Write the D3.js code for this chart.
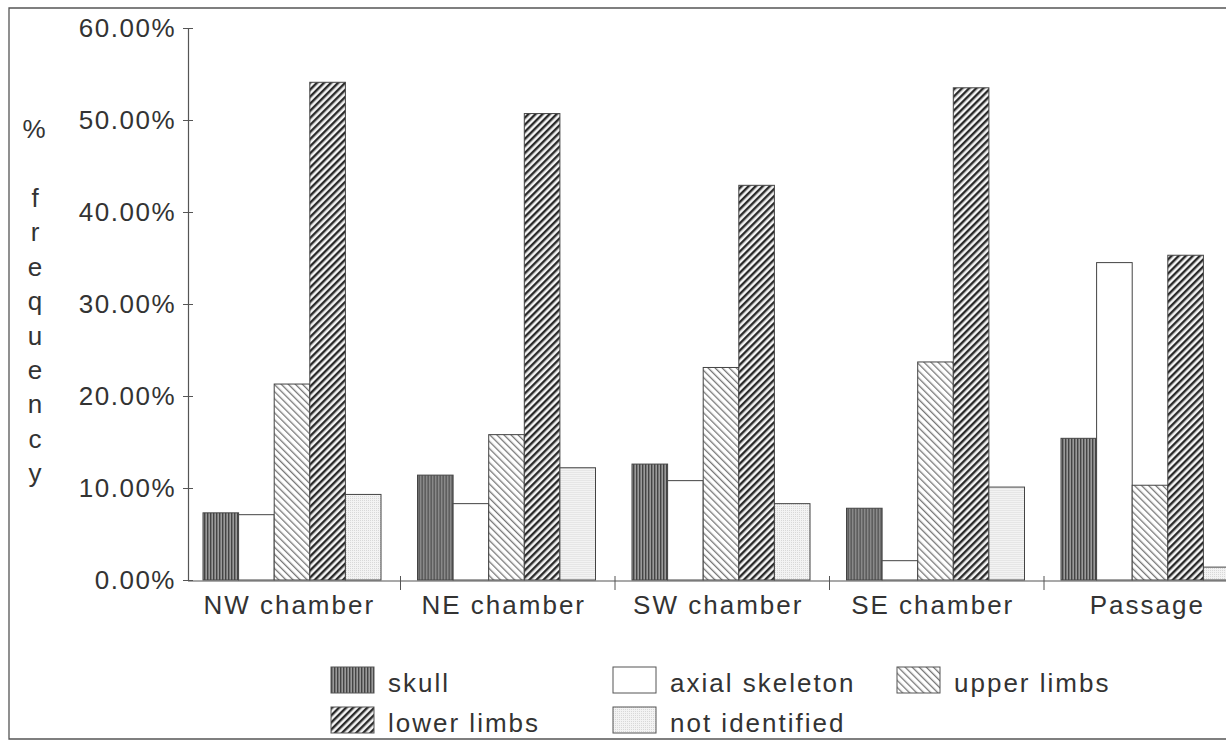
<!doctype html>
<html>
<head>
  <style>
    body { margin: 0; background: #fff; }
    svg { display: block; font-family: "Liberation Sans", Arial, sans-serif; }
    text { fill: #333; }
  </style>
  <script src="https://cdn.jsdelivr.net/npm/d3@7"></script>
</head>
<body>
<script>
  // categories and series
  var categories = ["NW chamber", "NE chamber", "SW chamber", "SE chamber", "Passage"];
  var series = ["skull", "axial skeleton", "upper limbs", "lower limbs", "not identified"];

  // values in %, one array per series
  var skull = [7.3, 11.4, 12.6, 7.8, 15.4];
  var axial = [7.1, 8.3, 10.8, 2.1, 34.5];
  var upperLimbs = [21.3, 15.8, 23.1, 23.7, 10.3];
  var lowerLimbs = [54.1, 50.7, 42.9, 53.5, 35.3];
  var notIdentified = [9.3, 12.2, 8.3, 10.1, 1.4];
  var yTicks = [0, 10, 20, 30, 40, 50, 60];

  var values = [skull, axial, upperLimbs, lowerLimbs, notIdentified];
  var fills = ["url(#pSkull)", "#fff", "url(#pUpper)", "url(#pLower)", "url(#pNotId)"];

  var W = 1226, H = 742;
  var svg = d3.select("body").append("svg").attr("width", W).attr("height", H);

  // patterns roughly like the printed hatches
  var defs = svg.append("defs");
  var p = defs.append("pattern").attr("id", "pSkull").attr("patternUnits", "userSpaceOnUse")
    .attr("width", 3).attr("height", 3);
  p.append("rect").attr("width", 3).attr("height", 3).attr("fill", "#9a9a9a");
  p.append("rect").attr("width", 1.4).attr("height", 3).attr("fill", "#444");

  p = defs.append("pattern").attr("id", "pUpper").attr("patternUnits", "userSpaceOnUse")
    .attr("width", 5).attr("height", 5).attr("patternTransform", "rotate(-45)");
  p.append("rect").attr("width", 5).attr("height", 5).attr("fill", "#fff");
  p.append("rect").attr("width", 1.3).attr("height", 5).attr("fill", "#777");

  p = defs.append("pattern").attr("id", "pLower").attr("patternUnits", "userSpaceOnUse")
    .attr("width", 5).attr("height", 5).attr("patternTransform", "rotate(45)");
  p.append("rect").attr("width", 5).attr("height", 5).attr("fill", "#f4f4f4");
  p.append("rect").attr("width", 2.4).attr("height", 5).attr("fill", "#2a2a2a");

  p = defs.append("pattern").attr("id", "pNotId").attr("patternUnits", "userSpaceOnUse")
    .attr("width", 2).attr("height", 2);
  p.append("rect").attr("width", 2).attr("height", 2).attr("fill", "#f3f3f3");
  p.append("rect").attr("width", 1).attr("height", 1).attr("fill", "#d8d8d8");

  // outer frame (right side is cut off in the scan)
  svg.append("path").attr("d", "M1226,8H9V739H1226")
    .attr("fill", "none").attr("stroke", "#555").attr("stroke-width", 1.3);

  var x0 = d3.scaleBand().domain(categories).range([186, 186 + 5 * 214.5]);
  var x1 = d3.scaleBand().domain(series).range([17, 17 + 178]);
  var y = d3.scaleLinear().domain([0, 60]).range([580, 28]);

  // bars
  var groups = svg.selectAll("g.grp").data(categories).enter().append("g")
    .attr("class", "grp")
    .attr("transform", function(d) { return "translate(" + x0(d) + ",0)"; });

  groups.selectAll("rect").data(function(c, ci) {
      return series.map(function(s, si) { return { s: s, si: si, v: values[si][ci] }; });
    })
    .enter().append("rect")
    .attr("x", function(d) { return x1(d.s); })
    .attr("y", function(d) { return y(d.v); })
    .attr("width", x1.bandwidth())
    .attr("height", function(d) { return y(0) - y(d.v); })
    .attr("fill", function(d) { return fills[d.si]; })
    .attr("stroke", "#444").attr("stroke-width", 1);

  // y axis
  var yAxis = svg.append("g").attr("transform", "translate(188,0)")
    .call(d3.axisLeft(y).tickValues(yTicks).tickSize(5).tickPadding(7)
      .tickFormat(function(d) { return d.toFixed(2) + "%"; }));
  yAxis.select(".domain").attr("stroke", "#555").attr("stroke-width", 1.2);
  yAxis.selectAll(".tick line").attr("x1", 5).attr("x2", -5).attr("stroke", "#555");
  yAxis.selectAll(".tick text").attr("font-size", 26).attr("letter-spacing", 1.5)
    .attr("fill", "#333").attr("font-family", "Liberation Sans, Arial, sans-serif");

  // x axis line and ticks between groups
  svg.append("line").attr("x1", 188).attr("x2", W).attr("y1", 581).attr("y2", 581)
    .attr("stroke", "#555").attr("stroke-width", 1.2);
  svg.selectAll("line.xt").data(categories.slice(1)).enter().append("line")
    .attr("class", "xt")
    .attr("x1", function(d) { return x0(d); }).attr("x2", function(d) { return x0(d); })
    .attr("y1", 576).attr("y2", 590).attr("stroke", "#555");
  svg.selectAll("text.xl").data(categories).enter().append("text")
    .attr("class", "xl")
    .attr("x", function(d) { return x0(d) + x0.bandwidth() / 2 - 4; })
    .attr("y", 614).attr("text-anchor", "middle")
    .attr("font-size", 26).attr("letter-spacing", 2)
    .text(function(d) { return d; });

  // vertical axis title, letter by letter
  svg.append("text").attr("x", 34).attr("y", 138).attr("text-anchor", "middle")
    .attr("font-size", 26).text("%");
  svg.selectAll("text.yt").data("frequency".split("")).enter().append("text")
    .attr("class", "yt")
    .attr("x", 35).attr("y", function(d, i) { return 207 + i * 34.4; })
    .attr("text-anchor", "middle").attr("font-size", 26)
    .text(function(d) { return d; });

  // legend
  var legX = [331, 613, 897];
  var legY = [667, 707];
  var legOrder = [0, 1, 2, 3, 4];
  var leg = svg.selectAll("g.leg").data(legOrder).enter().append("g")
    .attr("class", "leg")
    .attr("transform", function(d, i) {
      return "translate(" + legX[i % 3] + "," + legY[Math.floor(i / 3)] + ")";
    });
  leg.append("rect").attr("width", 43).attr("height", 26)
    .attr("fill", function(d) { return fills[d]; })
    .attr("stroke", "#555").attr("stroke-width", 1);
  leg.append("text").attr("x", 57).attr("y", 25)
    .attr("font-size", 26).attr("letter-spacing", 2)
    .text(function(d) { return series[d]; });
</script>
</body>
</html>
